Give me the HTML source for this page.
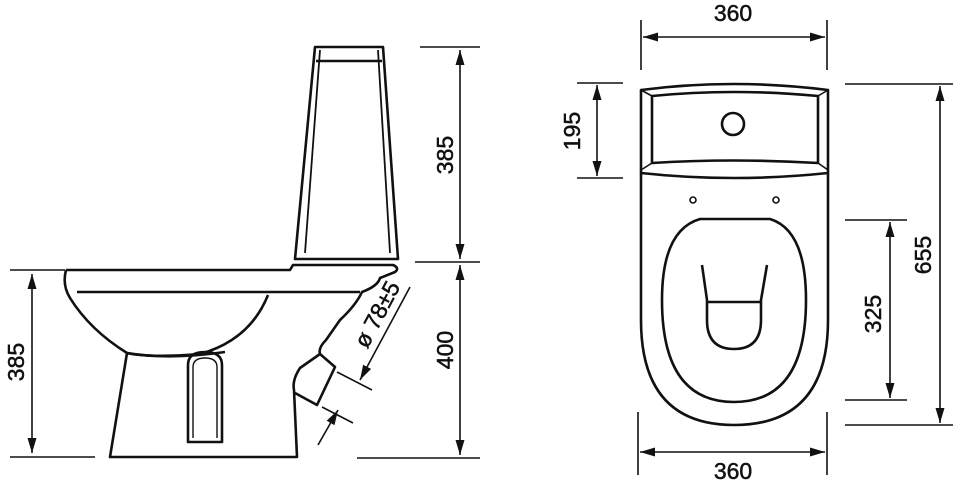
<!DOCTYPE html>
<html><head><style>body{margin:0;background:#fff}svg{display:block}text{font-family:"Liberation Sans",sans-serif;font-size:23px;fill:#111;stroke:#111;stroke-width:0.5}</style></head>
<body>
<svg width="956" height="481" viewBox="0 0 956 481" xmlns="http://www.w3.org/2000/svg">
<defs>
<marker id="a" viewBox="0 0 10 10" refX="10" refY="5" markerWidth="15" markerHeight="9" orient="auto-start-reverse" markerUnits="userSpaceOnUse" preserveAspectRatio="none"><path d="M0,0L10,5L0,10z" fill="#111"/></marker>
</defs>
<g fill="none" stroke="#111" stroke-width="2.6" stroke-linejoin="round">
<!-- LEFT: tank -->
<path d="M315,47 L383,47 L398,259 L295,259 Z"/>
<path d="M316,61 L382,61"/>
<path d="M320,50 L305,253 M378,50 L390,253" stroke-width="1.8"/>
<!-- bowl -->
<path d="M66,270 L290,270 L293,265 L393,265 Q400,268 395,272 Q385,276 380,278 Q378,286 362,292 Q356,305 340,320 L326,340 Q318,348 320,354 L300,368 Q292,380 294,390 L297,457 L110,457 L127,353"/>
<path d="M66,270 Q62,285 70,298 Q90,330 127,353 Q150,358 200,354 Q250,340 268,295"/>
<path d="M77,292 L360,292"/>
<path d="M127,353 Q170,360 225,352"/>
<path d="M320,354 L335,367 L317,405 L295,393"/>
<path d="M188,442 L188,365 Q188,352 205,352 Q222,352 222,365 L222,442 Z"/>
<path d="M193,438 L193,367 Q193,358 205,358 Q217,358 217,367 L217,438" stroke-width="1.4"/>
<!-- left dims -->
<path d="M10,270 L65,270 M10,457 L95,457" stroke-width="1.6"/>
<path d="M32,274 L32,453" stroke-width="1.6" marker-start="url(#a)" marker-end="url(#a)"/>
<path d="M420,47 L480,47 M415,262 L480,262 M357,458 L480,458" stroke-width="1.6"/>
<path d="M460,50 L460,259" stroke-width="1.6" marker-start="url(#a)" marker-end="url(#a)"/>
<path d="M460,265 L460,455" stroke-width="1.6" marker-start="url(#a)" marker-end="url(#a)"/>
<!-- diameter dim -->
<path d="M410,287 L360,380" stroke-width="1.6" marker-end="url(#a)"/>
<path d="M318,445 L338,410" stroke-width="1.6" marker-end="url(#a)"/>
<path d="M337,372 L372,390 M322,407 L353,423" stroke-width="1.6"/>
<!-- RIGHT: tank -->
<path d="M641,90 Q733,78 828,90 L828,173 Q733,183 641,173 Z"/>
<path d="M652,96 Q733,88 818,96 L818,163 Q733,158 652,163 Z"/>
<path d="M641,90 L652,96 M828,90 L818,96 M641,170 L652,163 M828,170 L818,163" stroke-width="1.6"/>
<circle cx="733" cy="124" r="11"/>
<!-- bowl -->
<path d="M641,173 L641,320 Q641,425 734,425 Q828,425 828,320 L828,173"/>
<circle cx="693" cy="200" r="3" stroke-width="1.6"/>
<circle cx="776" cy="200" r="3" stroke-width="1.6"/>
<path d="M700,219 L770,219 Q806,230 806,300 Q806,402 734,402 Q662,402 662,300 Q662,230 700,219 Z"/>
<path d="M702,265 L707,300 L707,320 Q707,349 734,349 Q761,349 761,320 L761,300 L767,265"/>
<path d="M708,302 L760,302"/>
<!-- right dims -->
<path d="M641,20 L641,70 M827,20 L827,70" stroke-width="1.6"/>
<path d="M643,37 L825,37" stroke-width="1.6" marker-start="url(#a)" marker-end="url(#a)"/>
<path d="M638,412 L638,475 M827,412 L827,475" stroke-width="1.6"/>
<path d="M640,452 L825,452" stroke-width="1.6" marker-start="url(#a)" marker-end="url(#a)"/>
<path d="M577,83 L623,83 M577,178 L623,178" stroke-width="1.6"/>
<path d="M597,85 L597,176" stroke-width="1.6" marker-start="url(#a)" marker-end="url(#a)"/>
<path d="M845,84 L953,84 M845,425 L953,425" stroke-width="1.6"/>
<path d="M940,86 L940,423" stroke-width="1.6" marker-start="url(#a)" marker-end="url(#a)"/>
<path d="M845,220 L907,220 M845,400 L907,400" stroke-width="1.6"/>
<path d="M890,222 L890,398" stroke-width="1.6" marker-start="url(#a)" marker-end="url(#a)"/>
</g>
<text x="733" y="21" text-anchor="middle">360</text>
<text x="733" y="479" text-anchor="middle">360</text>
<text transform="translate(580,131) rotate(-90)" text-anchor="middle">195</text>
<text transform="translate(931,255) rotate(-90)" text-anchor="middle">655</text>
<text transform="translate(881,314) rotate(-90)" text-anchor="middle">325</text>
<text transform="translate(453,155) rotate(-90)" text-anchor="middle">385</text>
<text transform="translate(453,350) rotate(-90)" text-anchor="middle">400</text>
<text transform="translate(24,362) rotate(-90)" text-anchor="middle">385</text>
<text transform="translate(384,318) rotate(-62)" text-anchor="middle">ø 78±5</text>
</svg>
</body></html>
